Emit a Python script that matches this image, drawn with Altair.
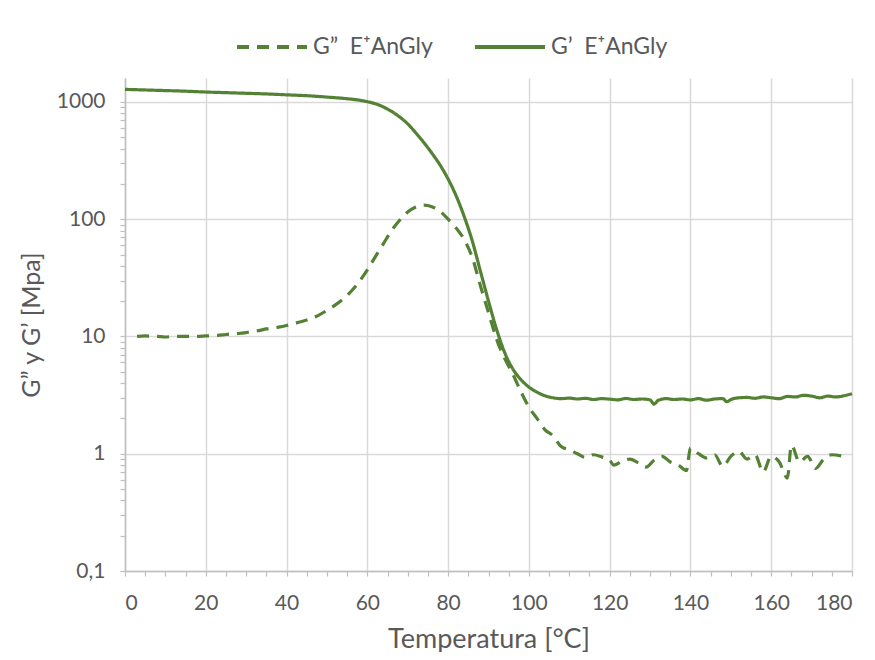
import altair as alt
import pandas as pd

# G' (storage modulus) E+AnGly
gp_T = [0, 5, 10, 15, 20, 25, 30, 35, 40, 45, 50, 55, 58, 60, 62, 64, 66, 68, 70, 72, 74, 76, 78, 80,
        82, 84, 86, 88, 90, 92, 94, 96, 98, 100, 102, 104, 106, 108, 110, 112, 114, 116, 118, 120, 122,
        124, 126, 128, 130, 131, 132, 134, 136, 138, 140, 142, 144, 146, 148, 149, 150, 152, 154, 156,
        158, 160, 162, 164, 166, 168, 170, 172, 174, 176, 178, 180]
gp_V = [1280, 1265, 1250, 1235, 1215, 1200, 1185, 1170, 1150, 1130, 1100, 1065, 1035, 1005, 965, 905,
        830, 745, 650, 545, 450, 365, 290, 220, 158, 105, 65, 36, 20, 11.5, 7.3, 5.3, 4.3, 3.7, 3.35,
        3.12, 3.0, 2.95, 2.98, 2.93, 2.97, 2.9, 2.95, 2.92, 2.88, 2.96, 2.9, 2.93, 2.88, 2.65, 2.85,
        2.95, 2.9, 2.93, 2.88, 2.95, 2.86, 2.93, 2.95, 2.78, 2.9, 3.0, 3.02, 2.97, 3.05, 3.0, 2.95,
        3.08, 3.05, 3.15, 3.1, 3.0, 3.1, 3.05, 3.12, 3.25]

# G'' (loss modulus) E+AnGly
gpp_T = [3, 5, 8, 10, 12, 15, 18, 20, 23, 25, 28, 30, 33, 35, 38, 40, 43, 45, 48, 50, 52, 55, 57, 60,
         62, 64, 66, 68, 70, 72, 74, 76, 78, 80, 82, 84, 86, 88, 90, 92, 94, 96, 98, 100, 102, 104, 106,
         108, 110, 112, 114, 116, 118, 120, 121, 123, 125, 127, 129, 131, 133, 135, 137, 139, 140, 142,
         144, 146, 148, 150, 152, 154, 156, 158, 160, 162, 164, 165, 167, 169, 171, 173, 175, 178]
gpp_V = [10.0, 10.1, 10.0, 9.9, 10.0, 10.0, 10.0, 10.1, 10.2, 10.4, 10.6, 10.8, 11.2, 11.6, 12.0, 12.4,
         13.2, 13.8, 15.2, 16.7, 18.5, 22.4, 26.5, 37, 48, 62, 80, 98, 115, 127, 132, 128, 117, 100, 84,
         67, 47, 27, 16, 9.5, 6.5, 4.8, 3.4, 2.5, 2.0, 1.6, 1.42, 1.15, 1.08, 1.0, 0.93, 0.98, 0.94, 0.88,
         0.8, 0.86, 0.9, 0.84, 0.77, 0.88, 0.95, 0.85, 0.8, 0.72, 1.12, 1.0, 0.92, 0.98, 0.78, 0.95, 1.05,
         0.9, 0.98, 0.7, 0.95, 0.85, 0.62, 1.18, 0.85, 0.95, 0.75, 0.9, 0.98, 0.95]

s_gpp = "G\u201d\u00a0 E\u207aAnGly"
s_gp = "G\u2019\u00a0 E\u207aAnGly"

x_ticks = list(range(0, 181, 5))
y_ticks = [round(m * 10 ** e, 4) for e in range(-1, 3) for m in range(1, 10)] + [1000]

df = pd.concat([
    pd.DataFrame({"T": gpp_T, "V": gpp_V, "s": s_gpp}),
    pd.DataFrame({"T": gp_T, "V": gp_V, "s": s_gp}),
])

GREEN = "#548235"
GREY = "#595959"
FONT = "Lato"

chart = alt.Chart(df).mark_line(strokeWidth=3.2, interpolate="monotone").encode(
    x=alt.X("T:Q", scale=alt.Scale(domain=[0, 180], nice=False),
            axis=alt.Axis(values=x_ticks, title="Temperatura [°C]",
                          labelExpr="datum.value % 20 == 0 ? format(datum.value, 'd') : ''",
                          gridOpacity={"condition": {"test": "datum.value % 20 == 0", "value": 1}, "value": 0},
                          labelPadding=16, titlePadding=13, labelOverlap=False)),
    y=alt.Y("V:Q", scale=alt.Scale(type="log", domain=[0.1, 1600], nice=False),
            axis=alt.Axis(values=y_ticks, title="G\u201d y G\u2019 [Mpa]",
                          labelExpr="datum.value == 0.1 ? '0,1' : (indexof([1,10,100,1000], datum.value) >= 0 ? format(datum.value, 'd') : '')",
                          gridOpacity={"condition": {"test": "indexof([0.1,1,10,100,1000], datum.value) >= 0", "value": 1}, "value": 0},
                          labelPadding=15, titlePadding=12, labelOverlap=False, titleFontSize=25)),
    color=alt.value(GREEN),
    strokeDash=alt.StrokeDash("s:N", scale=alt.Scale(domain=[s_gpp, s_gp], range=[[12, 8], [1, 0]]),
                              legend=alt.Legend(title=None, orient="none", legendX=110, legendY=-68,
                                                direction="horizontal", symbolType="stroke",
                                                symbolSize=4900, symbolStrokeWidth=4,
                                                symbolStrokeColor=GREEN, labelFontSize=23,
                                                labelColor=GREY, labelFont=FONT, columnPadding=34,
                                                labelOffset=4)),
).properties(
    width=727, height=493,
    autosize=alt.AutoSizeParams(type="none"),
    padding={"left": 117, "top": 70, "right": 15, "bottom": 81},
).configure_view(stroke=None).configure_axis(
    domainColor="#bfbfbf", domainWidth=1.5, tickColor="#bfbfbf", tickSize=5, tickWidth=1.2,
    gridColor="#d9d9d9", gridWidth=1.5, labelColor=GREY, labelFont=FONT, labelFontSize=21,
    titleColor=GREY, titleFont=FONT, titleFontSize=27, titleFontWeight="normal",
)

chart.save("out.html", embed_options={"renderer": "svg", "actions": False})
